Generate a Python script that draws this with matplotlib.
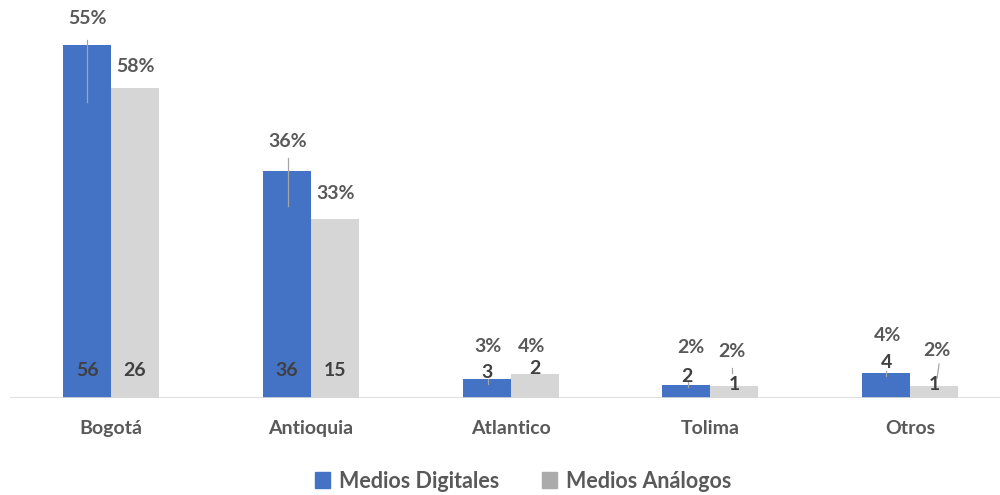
import numpy as np
import matplotlib
matplotlib.use("Agg")
import matplotlib.pyplot as plt
from matplotlib.lines import Line2D
from matplotlib.patches import Patch
from matplotlib.transforms import IdentityTransform

# Datos ==================================================================================================================
regiones = ["Bogotá", "Antioquia", "Atlantico", "Tolima", "Otros"]
digitales = [56, 36, 3, 2, 4]
analogos = [26, 15, 2, 1, 1]
pct_digitales = ["55%", "36%", "3%", "2%", "4%"]
pct_analogos = ["58%", "33%", "4%", "2%", "2%"]

# Estilo =================================================================================================================
AZUL = "#4472C4"
GRIS = "#D6D6D6"
TEXTO = "#595959"
FUENTE = ["Lato", "DejaVu Sans"]

# desplazamiento (px) de las etiquetas de porcentaje respecto a la parte alta de la barra
off_pct_d = [(0, 26), (1, 29), (1, 33), (4, 38), (1, 37)]
off_pct_a = [(0, 21), (1, 25), (-3, 28), (-2, 35), (3, 36)]
# altura (px) de las etiquetas de conteo sobre la base
off_cnt_d = [27, 27, 26, 22, 35]
off_cnt_a = [27, 27, 30, 14, 14]
# lineas guia (dx0, dy0, dx1, dy1) en px respecto a la parte alta de la barra
guias_d = [(0, 5, 0, -57), (1, 13, 1, -35), (1, 0, 1, -5), (2, 3, 2, -2), (0, 2, 0, -3)]
guias_a = [None, None, None, (-2, 18, -2, 13), (5, 22, 3, 8)]

fig = plt.figure(figsize=(10, 4.95), dpi=100)
ax = fig.add_axes([0.01, 97 / 495, 0.99, 388 / 495])
ax2 = ax.twinx()

x = np.arange(len(regiones))
w = 0.24
ax.bar(x - w / 2, digitales, w, color=AZUL, zorder=2)
ax2.bar(x + w / 2, analogos, w, color=GRIS, zorder=2)

ax.set_xlim(-0.506, 4.45)
ax.set_ylim(0, 61.5)
ax2.set_ylim(0, 32.5)

for a in (ax, ax2):
    for s in a.spines.values():
        s.set_visible(False)
    a.set_yticks([])
ax.axhline(0, color="#D9D9D9", lw=1.2, zorder=3)

ax.set_xticks(x)
ax.set_xticklabels(regiones, fontsize=14, color=TEXTO, fontweight="bold", family=FUENTE)
ax.tick_params(axis="x", length=0, pad=16)


def px(a, xi, yi):
    return a.transData.transform((xi, yi))


def etiquetas(a, xs, vals, pcts, off_pct, off_cnt, guias):
    for xi, v, p, (dx, dy), oc, g in zip(xs, vals, pcts, off_pct, off_cnt, guias):
        tx, ty = px(a, xi, v)
        bx, by = px(a, xi, 0)
        fig.text(tx + dx, ty + dy, p, transform=IdentityTransform(), ha="center", va="center",
                 fontsize=14, color=TEXTO, fontweight="bold", family=FUENTE)
        fig.text(bx, by + oc, str(v), transform=IdentityTransform(), ha="center", va="center",
                 fontsize=14, color="#404040", fontweight="bold", family=FUENTE, zorder=5)
        if g is not None:
            fig.add_artist(Line2D([tx + g[0], tx + g[2]], [ty + g[1], ty + g[3]],
                                  transform=IdentityTransform(), color="#A6A6A6", lw=0.9))


etiquetas(ax, x - w / 2, digitales, pct_digitales, off_pct_d, off_cnt_d, guias_d)
etiquetas(ax2, x + w / 2, analogos, pct_analogos, off_pct_a, off_cnt_a, guias_a)

handles = [Patch(color=AZUL, label="Medios Digitales"), Patch(color="#ABABAB", label="Medios Análogos")]
fig.legend(handles=handles, loc="center", bbox_to_anchor=(0.523, 14 / 495), ncol=2, frameon=False,
           prop={"family": FUENTE, "size": 15.5, "weight": "bold"}, labelcolor=TEXTO,
           handlelength=0.7, handleheight=0.7, handletextpad=0.4, columnspacing=2.0)

fig.savefig("out.png", dpi=100)
